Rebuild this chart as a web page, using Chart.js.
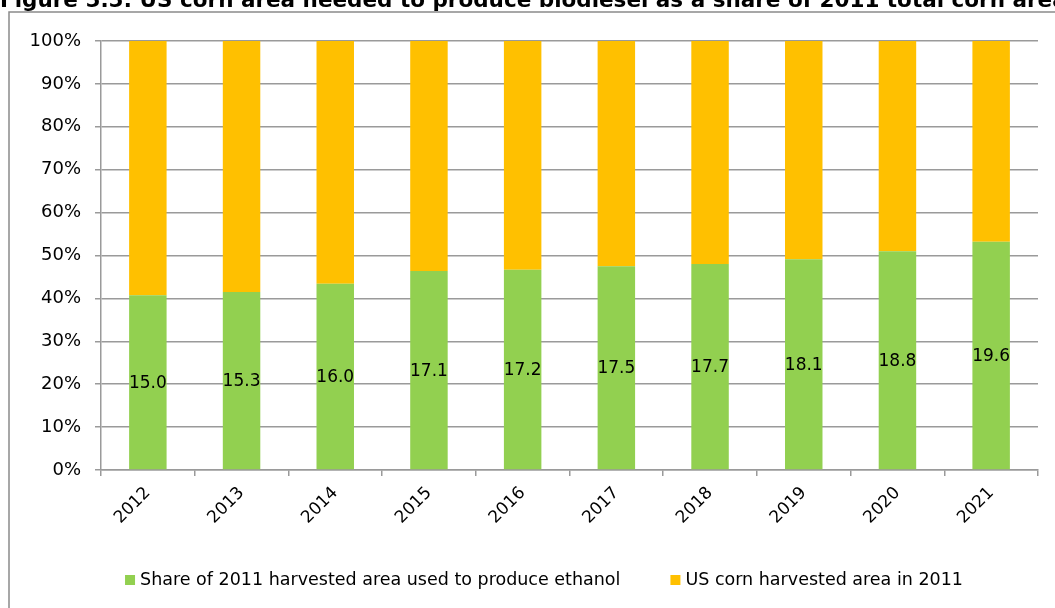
<!DOCTYPE html>
<html>
<head>
<meta charset="utf-8">
<script src="https://cdn.jsdelivr.net/npm/chart.js@4.4.0/dist/chart.umd.min.js"></script>
<style>
  html, body { margin: 0; padding: 0; background: #fff; }
  #wrap { position: relative; width: 1055px; height: 608px; overflow: hidden; }
  canvas { display: block; }
</style>
</head>
<body>
<div id="wrap"><canvas id="chart" width="1055" height="608"></canvas></div>
<script>
// Years on the category axis
const years = ['2012', '2013', '2014', '2015', '2016', '2017', '2018', '2019', '2020', '2021'];
// Corn area needed for ethanol each year (same units as the 2011 total below)
const ethanolArea = [15.0, 15.3, 16.0, 17.1, 17.2, 17.5, 17.7, 18.1, 18.8, 19.6];
// US corn harvested area in 2011
const totalArea2011 = 36.85;
// Value-axis ticks, in percent of the 2011 area
const yTicks = [0, 10, 20, 30, 40, 50, 60, 70, 80, 90, 100];
const seriesNames = [
  'Share of 2011 harvested area used to produce ethanol',
  'US corn harvested area in 2011'
];
const titleText = 'Figure 5.5: US corn area needed to produce biodiesel as a share of 2011 total corn area';

const GREEN = '#92D050';
const YELLOW = '#FFC000';
const GRID = '#9a9a9a';
const FONT = '"DejaVu Sans", sans-serif';

// Each bar is split into the ethanol share and the rest of the 2011 area
const ethanolShare = ethanolArea.map(a => a / totalArea2011 * 100);
const remainingShare = ethanolShare.map(s => 100 - s);

// Page frame and the heading above it
const framePlugin = {
  id: 'frame',
  beforeDraw(chart) {
    const ctx = chart.ctx;
    ctx.save();
    ctx.fillStyle = '#fff';
    ctx.fillRect(0, 0, chart.width, chart.height);
    ctx.strokeStyle = '#8a8a8a';
    ctx.lineWidth = 1.5;
    ctx.strokeRect(9, 12, 1100, 700);
    ctx.fillStyle = '#000';
    ctx.font = 'bold 21.5px ' + FONT;
    ctx.textAlign = 'left';
    ctx.textBaseline = 'alphabetic';
    ctx.fillText(titleText, 0, 7);
    ctx.restore();
  }
};

// Area values written in the middle of each green segment
const valueLabels = {
  id: 'valueLabels',
  afterDatasetsDraw(chart) {
    const ctx = chart.ctx;
    const meta = chart.getDatasetMeta(0);
    ctx.save();
    ctx.fillStyle = '#000';
    ctx.font = '17px ' + FONT;
    ctx.textAlign = 'center';
    ctx.textBaseline = 'middle';
    meta.data.forEach((bar, i) => {
      ctx.fillText(ethanolArea[i].toFixed(1), bar.x, (bar.y + bar.base) / 2 + 1);
    });
    ctx.restore();
  }
};

// Legend row along the bottom, spaced like the original report
const bottomLegend = {
  id: 'bottomLegend',
  afterDraw(chart) {
    const ctx = chart.ctx;
    const box = 10, gapText = 5, gapItems = 50, cy = 580, centerX = 544;
    ctx.save();
    ctx.font = '17.5px ' + FONT;
    ctx.textBaseline = 'middle';
    ctx.textAlign = 'left';
    const items = chart.data.datasets.map(ds => ({
      text: ds.label, color: ds.backgroundColor, w: ctx.measureText(ds.label).width
    }));
    const total = items.reduce((s, it) => s + box + gapText + it.w, 0) + gapItems * (items.length - 1);
    let x = centerX - total / 2;
    items.forEach(it => {
      ctx.fillStyle = it.color;
      ctx.fillRect(x, cy - box / 2, box, box);
      ctx.fillStyle = '#000';
      ctx.fillText(it.text, x + box + gapText, cy);
      x += box + gapText + it.w + gapItems;
    });
    ctx.restore();
  }
};

new Chart(document.getElementById('chart'), {
  type: 'bar',
  data: {
    labels: years,
    datasets: [
      { label: seriesNames[0], data: ethanolShare, backgroundColor: GREEN,
        barPercentage: 0.4, categoryPercentage: 1.0 },
      { label: seriesNames[1], data: remainingShare, backgroundColor: YELLOW,
        barPercentage: 0.4, categoryPercentage: 1.0 }
    ]
  },
  options: {
    responsive: false,
    animation: false,
    events: [],
    layout: { padding: { top: 41, right: 17, left: 0, bottom: 46 } },
    plugins: {
      legend: { display: false },
      title: { display: false },
      tooltip: { enabled: false }
    },
    scales: {
      x: {
        stacked: true,
        grid: { display: true, drawOnChartArea: false, drawTicks: true, tickLength: 6,
                color: GRID, lineWidth: 1.5, offset: true },
        border: { display: true, color: GRID, width: 1.5 },
        ticks: { minRotation: 45, maxRotation: 45, padding: 7, color: '#000',
                 font: { family: FONT, size: 17 } },
        afterFit(scale) { scale.height = 92; }
      },
      y: {
        stacked: true,
        min: 0,
        max: 100,
        afterBuildTicks(scale) { scale.ticks = yTicks.map(v => ({ value: v })); },
        grid: { color: GRID, lineWidth: 1.5, tickLength: 6 },
        border: { display: true, color: GRID, width: 1.5 },
        ticks: { padding: 14, color: '#000', font: { family: FONT, size: 18 },
                 callback: v => v + '%' },
        afterFit(scale) { scale.width = 101; }
      }
    }
  },
  plugins: [framePlugin, valueLabels, bottomLegend]
});
</script>
</body>
</html>
